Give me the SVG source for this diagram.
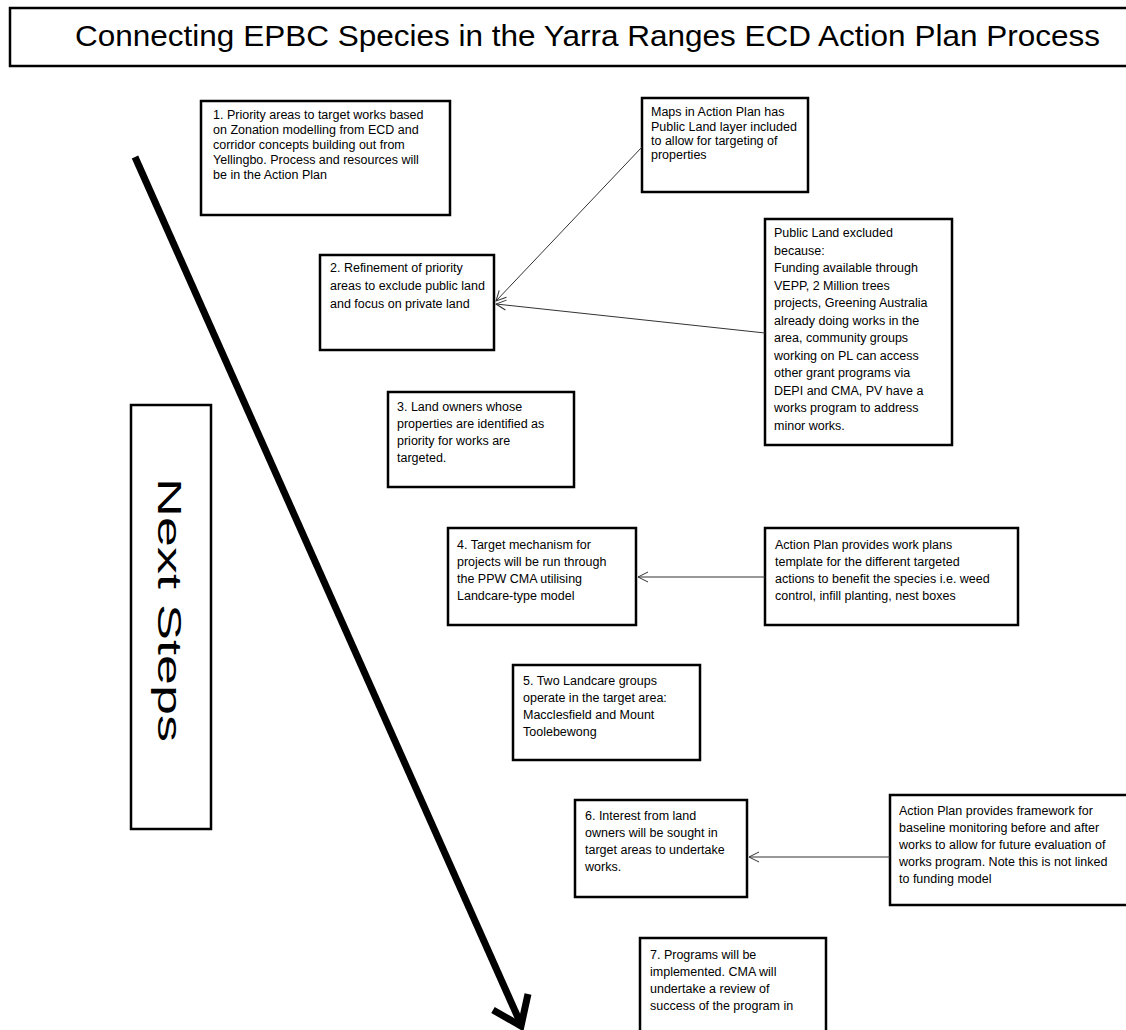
<svg xmlns="http://www.w3.org/2000/svg" width="1126" height="1030" viewBox="0 0 1126 1030">
<style>
.box{fill:#fff;stroke:#000;stroke-width:2.5}
.t{font-family:"Liberation Sans",Arial,sans-serif;font-size:12.5px;fill:#000}
.con{stroke:#333;stroke-width:1;fill:none}
</style>
<defs>
<marker id="open" viewBox="0 0 12 12" refX="11" refY="6" markerWidth="12" markerHeight="12" markerUnits="userSpaceOnUse" orient="auto">
<path d="M1 1 L11 6 L1 11" fill="none" stroke="#333" stroke-width="1"/>
</marker>
</defs>
<rect width="1126" height="1030" fill="#fff"/>
<g id="title">
<rect class="box" x="10" y="8" width="1130" height="58"/>
<text x="75" y="46" font-family="Liberation Sans,Arial,sans-serif" font-size="29" textLength="1025" lengthAdjust="spacingAndGlyphs">Connecting EPBC Species in the Yarra Ranges ECD Action Plan Process</text>
</g>
<g id="main-arrow" stroke="#000" stroke-width="7" fill="none" stroke-linecap="butt">
<line x1="135" y1="157" x2="520" y2="1022"/>
<path d="M493 1010 L521 1026 L528 994" stroke-linejoin="miter"/>
</g>
<g id="next-steps">
<rect class="box" x="131" y="405" width="80" height="424"/>
<text transform="translate(158 478) rotate(90)" font-family="Liberation Sans,Arial,sans-serif" font-size="34" textLength="264" lengthAdjust="spacingAndGlyphs">Next Steps</text>
</g>
<g id="step1">
<rect class="box" x="201" y="101" width="249" height="114"/>
<text class="t"><tspan x="213" y="119">1. Priority areas to target works based</tspan><tspan x="213" y="134">on Zonation modelling from ECD and</tspan><tspan x="213" y="149">corridor concepts building out from</tspan><tspan x="213" y="164">Yellingbo. Process and resources will</tspan><tspan x="213" y="179">be in the Action Plan</tspan></text>
</g>
<g id="maps">
<rect class="box" x="642" y="98" width="166" height="94"/>
<text class="t"><tspan x="651" y="116">Maps in Action Plan has</tspan><tspan x="651" y="131">Public Land layer included</tspan><tspan x="651" y="145">to allow for targeting of</tspan><tspan x="651" y="159">properties</tspan></text>
</g>
<g id="step2">
<rect class="box" x="320" y="255" width="174" height="95"/>
<text class="t"><tspan x="330" y="272">2. Refinement of priority</tspan><tspan x="330" y="290">areas to exclude public land</tspan><tspan x="330" y="308">and focus on private land</tspan></text>
</g>
<g id="public-land">
<rect class="box" x="765" y="219" width="187" height="226"/>
<text class="t"><tspan x="774" y="237">Public Land excluded</tspan><tspan x="774" y="254.5">because:</tspan><tspan x="774" y="272">Funding available through</tspan><tspan x="774" y="289.5">VEPP, 2 Million trees</tspan><tspan x="774" y="307">projects, Greening Australia</tspan><tspan x="774" y="324.5">already doing works in the</tspan><tspan x="774" y="342">area, community groups</tspan><tspan x="774" y="359.5">working on PL can access</tspan><tspan x="774" y="377">other grant programs via</tspan><tspan x="774" y="394.5">DEPI and CMA, PV have a</tspan><tspan x="774" y="412">works program to address</tspan><tspan x="774" y="429.5">minor works.</tspan></text>
</g>
<g id="step3">
<rect class="box" x="388" y="392" width="186" height="95"/>
<text class="t"><tspan x="397" y="411">3. Land owners whose</tspan><tspan x="397" y="428">properties are identified as</tspan><tspan x="397" y="445">priority for  works are</tspan><tspan x="397" y="462">targeted.</tspan></text>
</g>
<g id="step4">
<rect class="box" x="448" y="528" width="188" height="97"/>
<text class="t"><tspan x="457" y="549">4. Target mechanism  for</tspan><tspan x="457" y="566">projects will be run through</tspan><tspan x="457" y="583">the PPW CMA utilising</tspan><tspan x="457" y="600">Landcare-type model</tspan></text>
</g>
<g id="work-plans">
<rect class="box" x="765" y="528" width="253" height="97"/>
<text class="t"><tspan x="775" y="549">Action Plan provides work plans</tspan><tspan x="775" y="566">template for the different targeted</tspan><tspan x="775" y="583">actions to benefit the species i.e. weed</tspan><tspan x="775" y="600">control, infill planting, nest boxes</tspan></text>
</g>
<g id="step5">
<rect class="box" x="513" y="665" width="187" height="95"/>
<text class="t"><tspan x="523" y="685">5. Two Landcare groups</tspan><tspan x="523" y="702">operate in the target area:</tspan><tspan x="523" y="719">Macclesfield and Mount</tspan><tspan x="523" y="736">Toolebewong</tspan></text>
</g>
<g id="step6">
<rect class="box" x="575" y="800" width="172" height="97"/>
<text class="t"><tspan x="585" y="820">6. Interest from land</tspan><tspan x="585" y="837">owners will be sought in</tspan><tspan x="585" y="854">target areas to undertake</tspan><tspan x="585" y="871">works.</tspan></text>
</g>
<g id="framework">
<rect class="box" x="890" y="795" width="250" height="110"/>
<text class="t"><tspan x="899" y="815">Action Plan provides framework for</tspan><tspan x="899" y="832">baseline monitoring before and after</tspan><tspan x="899" y="849">works to allow for future evaluation of</tspan><tspan x="899" y="866">works program. Note this is not linked</tspan><tspan x="899" y="883">to funding model</tspan></text>
</g>
<g id="step7">
<rect class="box" x="640" y="938" width="186" height="100"/>
<text class="t"><tspan x="650" y="959">7. Programs will be</tspan><tspan x="650" y="976">implemented. CMA will</tspan><tspan x="650" y="993">undertake a review of</tspan><tspan x="650" y="1010">success of the program in</tspan></text>
</g>
<g id="connectors">
<line class="con" x1="642" y1="147" x2="496" y2="301" marker-end="url(#open)"/>
<line class="con" x1="765" y1="333" x2="496" y2="304" marker-end="url(#open)"/>
<line class="con" x1="765" y1="577" x2="638" y2="577" marker-end="url(#open)"/>
<line class="con" x1="890" y1="857" x2="749" y2="857" marker-end="url(#open)"/>
</g>
</svg>
